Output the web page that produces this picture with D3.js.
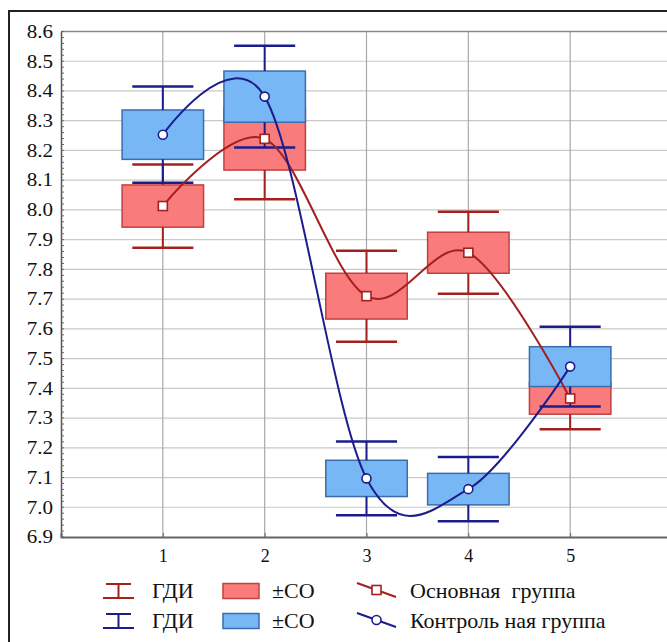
<!DOCTYPE html>
<html>
<head>
<meta charset="utf-8">
<script src="https://cdnjs.cloudflare.com/ajax/libs/d3/7.8.5/d3.min.js"></script>
<style>
  html, body { margin: 0; padding: 0; background: #fff; }
  svg { display: block; }
</style>
</head>
<body>
<svg id="chart" width="667" height="642"></svg>
<script>
// Stage numbers along the x axis
const categories = [1, 2, 3, 4, 5];
const xTickLabels = ["1", "2", "3", "4", "5"];
const yTicks = [6.9, 7.0, 7.1, 7.2, 7.3, 7.4, 7.5, 7.6, 7.7, 7.8, 7.9, 8.0, 8.1, 8.2, 8.3, 8.4, 8.5, 8.6];

// Основная группа: mean, ±SD (box half-height), confidence interval half-width (whiskers)
const mainMean = [8.013, 8.239, 7.710, 7.856, 7.366];
const mainSD   = [0.071, 0.105, 0.077, 0.069, 0.053];
const mainCI   = [0.140, 0.203, 0.153, 0.138, 0.104];

// Контрольная группа
const ctrlMean = [8.253, 8.381, 7.097, 7.061, 7.473];
const ctrlSD   = [0.083, 0.086, 0.061, 0.053, 0.067];
const ctrlCI   = [0.162, 0.171, 0.124, 0.108, 0.134];

const legendLabels = {
  whisker: "ГДИ",
  box: "±СО",
  main: "Основная  группа",
  ctrl: "Контроль ная группа"
};

const FONT = "'Liberation Serif', 'Times New Roman', Times, 'DejaVu Serif', 'Noto Serif', serif";

const svg = d3.select("#chart");

const x = d3.scaleLinear().domain([0, 6]).range([61, 672]);
const y = d3.scaleLinear().domain([6.9, 8.6]).range([537, 31.5]);

const red = { fill: "#f97b7b", stroke: "#c2403f", dark: "#a3201f" };
const blue = { fill: "#78b7f5", stroke: "#3a6cae", dark: "#1b1d8c" };

// outer frame
svg.append("rect")
  .attr("x", 9).attr("y", 11).attr("width", 700).attr("height", 700)
  .attr("fill", "none").attr("stroke", "#222").attr("stroke-width", 2);

const plot = svg.append("g");

// horizontal grid
plot.selectAll("line.hgrid").data(yTicks.slice(1)).join("line")
  .attr("class", "hgrid")
  .attr("x1", x(0)).attr("x2", x(6))
  .attr("y1", d => y(d)).attr("y2", d => y(d))
  .attr("stroke", "#c9c9c9").attr("stroke-width", 1.2);

// vertical grid
plot.selectAll("line.vgrid").data(categories).join("line")
  .attr("class", "vgrid")
  .attr("x1", d => x(d)).attr("x2", d => x(d))
  .attr("y1", y(8.6)).attr("y2", y(6.9))
  .attr("stroke", "#a9a9a9").attr("stroke-width", 1.2);

// plot top border
plot.append("line")
  .attr("x1", x(0)).attr("x2", x(6)).attr("y1", y(8.6)).attr("y2", y(8.6))
  .attr("stroke", "#8a8a8a").attr("stroke-width", 1.5);

// y axis
const yAxis = d3.axisLeft(y).tickValues(yTicks).tickFormat(d3.format(".1f")).tickSize(0).tickPadding(0);
const yG = svg.append("g").attr("transform", `translate(${x(0)},0)`).call(yAxis)
  .attr("font-family", null).attr("font-size", null);
yG.select(".domain").attr("stroke", "#555").attr("stroke-width", 1.5);
yG.selectAll(".tick text")
  .attr("x", 0)
  .attr("transform", "translate(-8,0) scale(1.17,1)")
  .style("font-family", FONT)
  .style("font-size", "18px").attr("fill", "#111");

// minor ticks on the y axis
const minor = d3.range(0, 86).map(i => 6.9 + i * 0.02);
svg.append("g").selectAll("line").data(minor).join("line")
  .attr("x1", x(0)).attr("x2", x(0) + 3)
  .attr("y1", d => y(d)).attr("y2", d => y(d))
  .attr("stroke", "#666").attr("stroke-width", 1);

// x axis
const xAxis = d3.axisBottom(x).tickValues(categories).tickFormat((d, i) => xTickLabels[i]).tickSize(-4).tickPadding(12);
const xG = svg.append("g").attr("transform", `translate(0,${y(6.9)})`).call(xAxis)
  .attr("font-family", null).attr("font-size", null);
xG.select(".domain").attr("stroke", "#666").attr("stroke-width", 2);
xG.selectAll(".tick line").attr("stroke", "#666");
xG.selectAll("text").style("font-family", FONT).style("font-size", "18px").attr("fill", "#111");

const boxHalf = x(0.4) - x(0);
const capHalf = x(0.3) - x(0);

function drawBoxes(mean, sd, c) {
  plot.append("g").selectAll("rect").data(categories).join("rect")
    .attr("x", d => x(d) - boxHalf)
    .attr("width", 2 * boxHalf)
    .attr("y", (d, i) => y(mean[i] + sd[i]))
    .attr("height", (d, i) => y(mean[i] - sd[i]) - y(mean[i] + sd[i]))
    .attr("fill", c.fill).attr("stroke", c.stroke).attr("stroke-width", 1.5);
}

function drawWhiskers(mean, sd, ci, c) {
  const g = plot.append("g").attr("stroke", c.dark).attr("stroke-width", 2.5);
  categories.forEach((d, i) => {
    const cx = x(d);
    g.append("line").attr("x1", cx).attr("x2", cx)
      .attr("y1", y(mean[i] + ci[i])).attr("y2", y(mean[i] + sd[i])).attr("stroke-width", 2);
    g.append("line").attr("x1", cx).attr("x2", cx)
      .attr("y1", y(mean[i] - sd[i])).attr("y2", y(mean[i] - ci[i])).attr("stroke-width", 2);
    g.append("line").attr("x1", cx - capHalf).attr("x2", cx + capHalf)
      .attr("y1", y(mean[i] + ci[i])).attr("y2", y(mean[i] + ci[i]));
    g.append("line").attr("x1", cx - capHalf).attr("x2", cx + capHalf)
      .attr("y1", y(mean[i] - ci[i])).attr("y2", y(mean[i] - ci[i]));
  });
}

drawBoxes(mainMean, mainSD, red);
drawWhiskers(mainMean, mainSD, mainCI, red);
drawBoxes(ctrlMean, ctrlSD, blue);
drawWhiskers(ctrlMean, ctrlSD, ctrlCI, blue);

// smoothed lines through the means
const line = d3.line().x((d, i) => x(categories[i])).y(d => y(d)).curve(d3.curveCardinal.tension(0));

plot.append("path").datum(mainMean).attr("d", line)
  .attr("fill", "none").attr("stroke", red.dark).attr("stroke-width", 2);
plot.append("path").datum(ctrlMean).attr("d", line)
  .attr("fill", "none").attr("stroke", blue.dark).attr("stroke-width", 2);

// mean markers
plot.append("g").selectAll("rect").data(mainMean).join("rect")
  .attr("x", (d, i) => x(categories[i]) - 4.5).attr("y", d => y(d) - 4.5)
  .attr("width", 9).attr("height", 9)
  .attr("fill", "#fff").attr("stroke", red.dark).attr("stroke-width", 1.6);
plot.append("g").selectAll("circle").data(ctrlMean).join("circle")
  .attr("cx", (d, i) => x(categories[i])).attr("cy", d => y(d)).attr("r", 4.5)
  .attr("fill", "#fff").attr("stroke", blue.dark).attr("stroke-width", 1.6);

// legend
const legend = svg.append("g");
const rows = [
  { y: 591, c: red, label: legendLabels.main, marker: "square" },
  { y: 621, c: blue, label: legendLabels.ctrl, marker: "circle" }
];
function stretchedText(g, tx, ty, str) {
  g.append("text")
    .attr("transform", `translate(${tx},${ty}) scale(1.1,1)`)
    .style("font-family", FONT)
    .style("font-size", "20px").style("white-space", "pre")
    .attr("fill", "#111")
    .text(str);
}
rows.forEach(r => {
  const g = legend.append("g");
  // whisker icon
  g.append("line").attr("x1", 106).attr("x2", 131).attr("y1", r.y - 7).attr("y2", r.y - 7)
    .attr("stroke", r.c.dark).attr("stroke-width", 2);
  g.append("line").attr("x1", 103).attr("x2", 134).attr("y1", r.y + 7).attr("y2", r.y + 7)
    .attr("stroke", r.c.dark).attr("stroke-width", 2);
  g.append("line").attr("x1", 118.5).attr("x2", 118.5).attr("y1", r.y - 7).attr("y2", r.y + 7)
    .attr("stroke", r.c.dark).attr("stroke-width", 2);
  stretchedText(g, 152, r.y + 7, legendLabels.whisker);
  // box icon
  g.append("rect").attr("x", 223).attr("y", r.y - 7.5).attr("width", 36).attr("height", 15)
    .attr("fill", r.c.fill).attr("stroke", r.c.stroke).attr("stroke-width", 1.5);
  stretchedText(g, 272, r.y + 7, legendLabels.box);
  // line icon
  g.append("line").attr("x1", 357).attr("x2", 396).attr("y1", r.y - 8).attr("y2", r.y + 6)
    .attr("stroke", r.c.dark).attr("stroke-width", 2);
  if (r.marker === "square") {
    g.append("rect").attr("x", 372).attr("y", r.y - 5.5).attr("width", 9).attr("height", 9)
      .attr("fill", "#fff").attr("stroke", r.c.dark).attr("stroke-width", 1.6);
  } else {
    g.append("circle").attr("cx", 376.5).attr("cy", r.y - 1).attr("r", 4.5)
      .attr("fill", "#fff").attr("stroke", r.c.dark).attr("stroke-width", 1.6);
  }
  stretchedText(g, 410, r.y + 7, r.label);
});
</script>
</body>
</html>
